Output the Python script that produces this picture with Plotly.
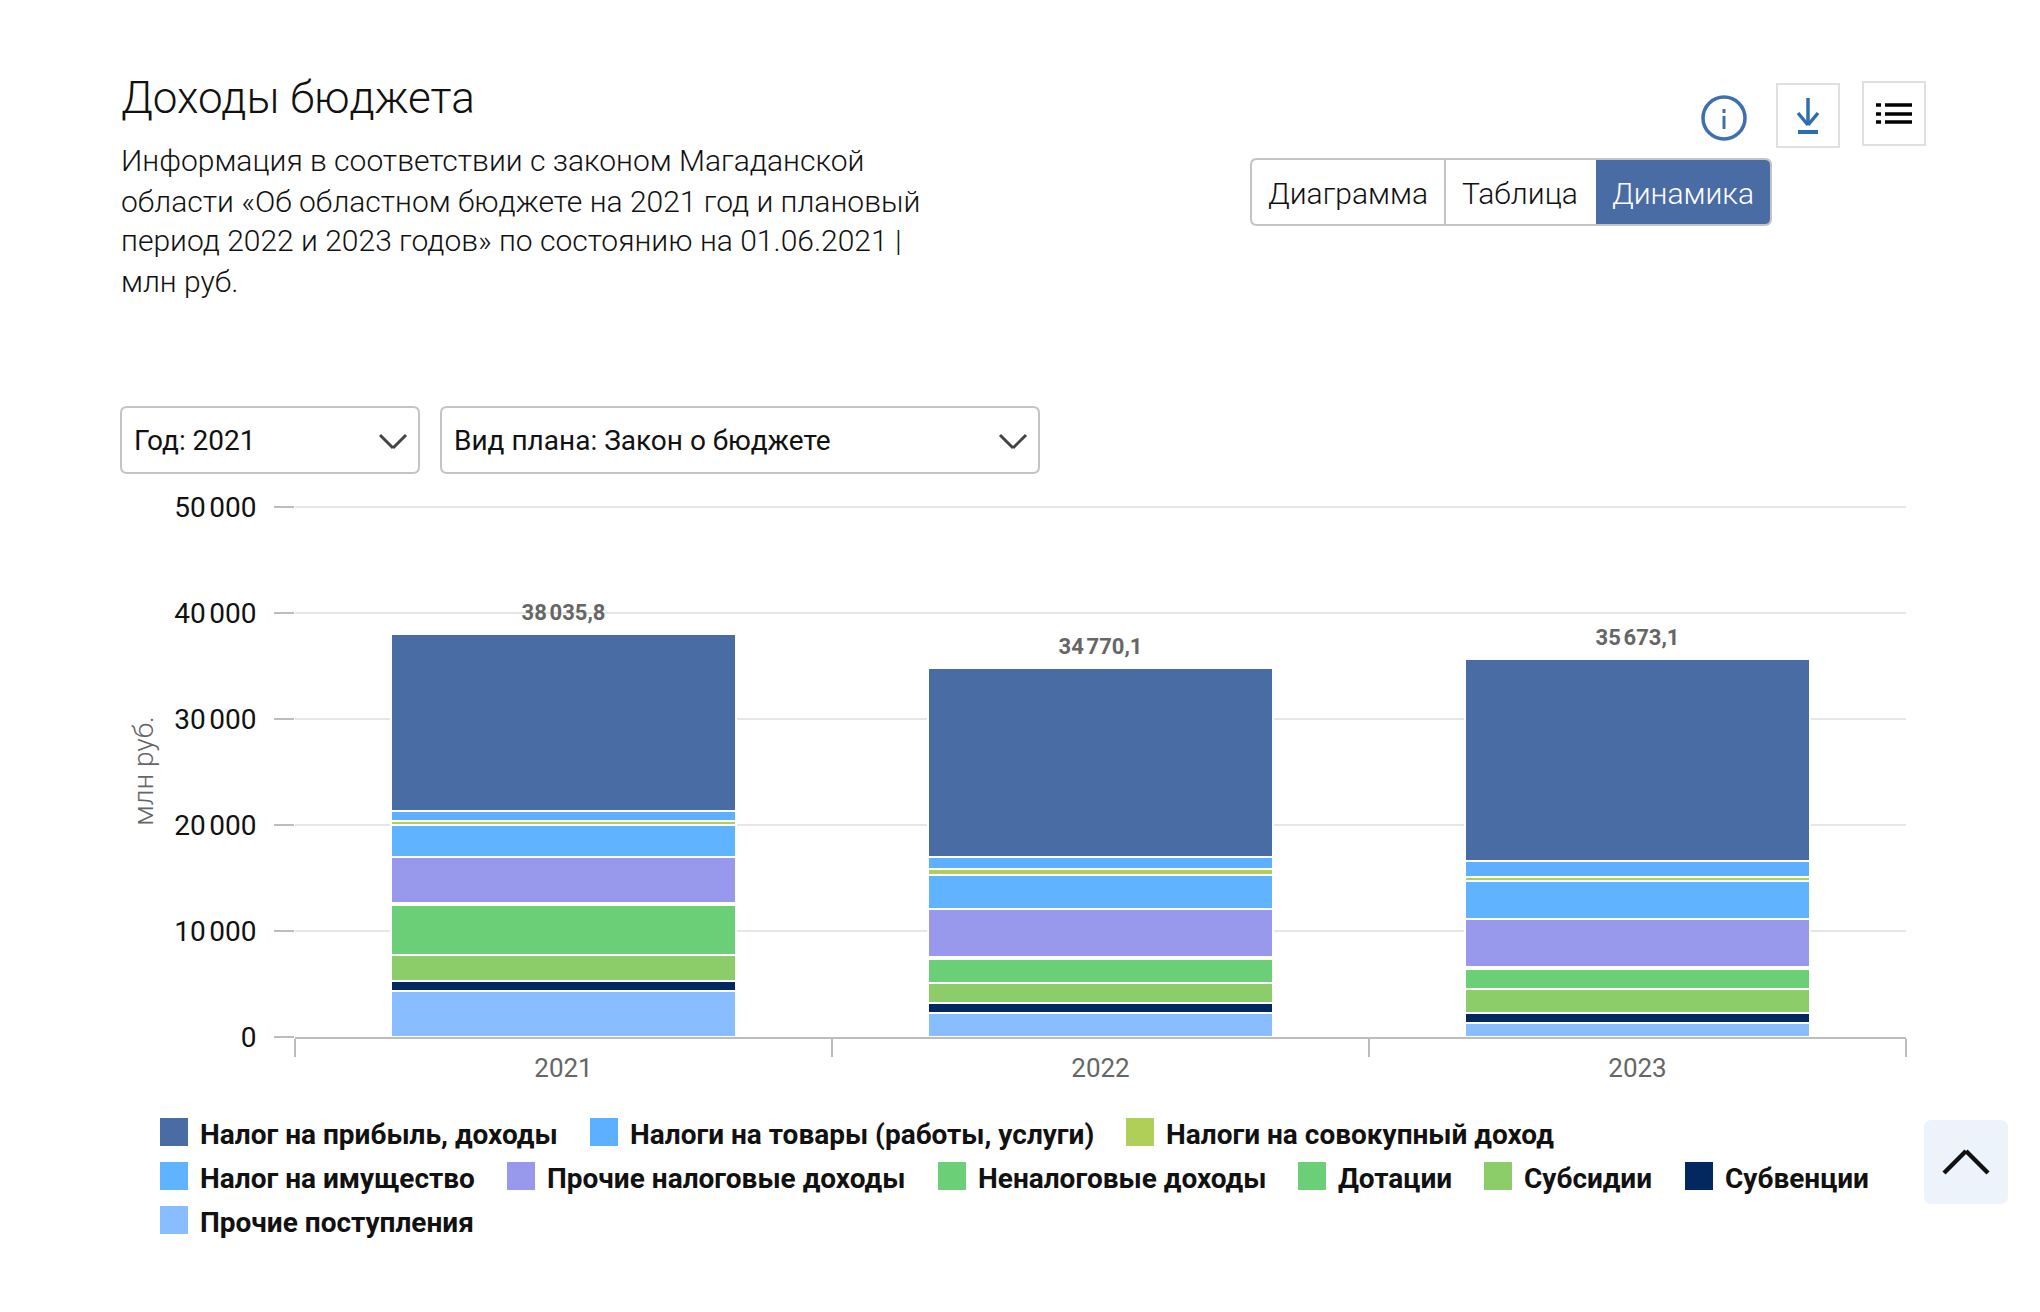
import plotly.graph_objects as go

W = 2040
H = 1312

years = ['2021', '2022', '2023']
totals = [38035.8, 34770.1, 35673.1]
total_labels = ['38\u202f035,8', '34\u202f770,1', '35\u202f673,1']

names = [
    'Налог на прибыль, доходы', 'Налоги на товары (работы, услуги)', 'Налоги на совокупный доход',
    'Налог на имущество', 'Прочие налоговые доходы', 'Неналоговые доходы',
    'Дотации', 'Субсидии', 'Субвенции', 'Прочие поступления',
]
pribyl = [16746.8, 17819.1, 19100.1]
tovary = [943, 1132, 1510]
sovokup = [377, 566, 377]
imushch = [3019, 3208, 3585]
prochie_nal = [4340, 4529, 4529]
nenalog = [189, 189, 189]
dotacii = [4717, 2264, 1887]
subsidii = [2453, 1887, 2264]
subvencii = [943, 943, 943]
prochie_post = [4308, 2233, 1289]
series = [pribyl, tovary, sovokup, imushch, prochie_nal, nenalog, dotacii, subsidii, subvencii, prochie_post]
colors = ['#4A6CA5', '#5CB0FF', '#AFCF58', '#5FB3FF', '#9898EC', '#6BCF77', '#6BCF77', '#8CCD6A', '#02285F', '#88BDFF']

y_ticks = [0, 10000, 20000, 30000, 40000, 50000]
y_labels = ['0', '10\u202f000', '20\u202f000', '30\u202f000', '40\u202f000', '50\u202f000']

FONT = 'Roboto'


# page pixels -> paper coords
# plot area runs 2px above the 50 000 line, plotly drops a gridline sitting on the range end
L, R, T, B = 295, 1906, 505, 1037
Y_MAX = 50190
def px(x):
    return (x - L) / (R - L)
def py(y):
    return (B - y) / (B - T)


fig = go.Figure()

# stacked bottom up, so the last legend entry goes in first
for name, vals, col in reversed(list(zip(names, series, colors))):
    fig.add_trace(go.Bar(x=years, y=vals, name=name, marker=dict(color=col, line=dict(color='white', width=2))))

# invisible markers push the total labels up off the bars
fig.add_trace(go.Scatter(x=years, y=totals, mode='markers+text', text=total_labels, textposition='top center',
                         marker=dict(size=12, opacity=0),
                         textfont=dict(family=FONT, size=22, color='#666666', weight=700)))


def text(s, x, y, size, color='#111111', weight=300, anchor='left'):
    fig.add_annotation(text=s, xref='paper', yref='paper', x=px(x), y=py(y), showarrow=False,
                       xanchor=anchor, yanchor='middle', align='left', borderpad=0, borderwidth=0,
                       font=dict(family=FONT, size=size, color=color, weight=weight))


def rect(x0, y0, x1, y1, fill=None, line=None, width=2):
    fig.add_shape(type='rect', xref='paper', yref='paper', x0=px(x0), x1=px(x1), y0=py(y0), y1=py(y1),
                  fillcolor=fill, line=dict(color=line, width=width if line else 0))


def round_rect(x0, y0, x1, y1, r=6, fill=None, line=None, width=2):
    p = (f'M{px(x0 + r)},{py(y0)} L{px(x1 - r)},{py(y0)} Q{px(x1)},{py(y0)} {px(x1)},{py(y0 + r)} '
         f'L{px(x1)},{py(y1 - r)} Q{px(x1)},{py(y1)} {px(x1 - r)},{py(y1)} '
         f'L{px(x0 + r)},{py(y1)} Q{px(x0)},{py(y1)} {px(x0)},{py(y1 - r)} '
         f'L{px(x0)},{py(y0 + r)} Q{px(x0)},{py(y0)} {px(x0 + r)},{py(y0)} Z')
    fig.add_shape(type='path', xref='paper', yref='paper', path=p, fillcolor=fill,
                  line=dict(color=line, width=width if line else 0))


def seg(x0, y0, x1, y1, color, width=2):
    fig.add_shape(type='line', xref='paper', yref='paper', x0=px(x0), x1=px(x1), y0=py(y0), y1=py(y1),
                  line=dict(color=color, width=width))


# header
text('Доходы бюджета', 121, 98, 44)
desc = ['Информация в соответствии с законом Магаданской',
        'области «Об областном бюджете на 2021 год и плановый',
        'период 2022 и 2023 годов» по состоянию на 01.06.2021 |',
        'млн руб.']
for i, line in enumerate(desc):
    text(line, 121, 161 + 40 * i, 30)

# view switcher
round_rect(1251, 159, 1771, 225, fill='white', line='#c4c4c4')
round_rect(1596, 160, 1770, 224, r=5, fill='#4A6CA5')
rect(1596, 160, 1610, 224, fill='#4A6CA5')
seg(1445, 159, 1445, 225, '#c4c4c4')
text('Диаграмма', 1348, 193.5, 30, anchor='center')
text('Таблица', 1520, 193.5, 30, anchor='center')
text('Динамика', 1683, 193.5, 30, color='white', anchor='center')

# icons
fig.add_shape(type='circle', xref='paper', yref='paper', x0=px(1703), x1=px(1745), y0=py(97), y1=py(139),
              line=dict(color='#3F6FB0', width=3.5))
seg(1724, 116, 1724, 129, '#3F6FB0', 3)
seg(1724, 109, 1724, 113, '#3F6FB0', 3)
rect(1777, 84, 1839, 147, line='#e0e0e0')
seg(1808, 98, 1808, 125, '#2E6DB0', 3.5)
seg(1798, 113, 1808, 125, '#2E6DB0', 3.5)
seg(1818, 113, 1808, 125, '#2E6DB0', 3.5)
seg(1798, 132, 1818, 132, '#2E6DB0', 4)
rect(1863, 82, 1925, 145, line='#e0e0e0')
for y in [105, 114, 122]:
    seg(1876, y, 1881, y, 'black', 3.5)
    seg(1885, y, 1912, y, 'black', 3.5)

# dropdowns
round_rect(121, 407, 419, 473, fill='white', line='#c4c4c4')
round_rect(441, 407, 1039, 473, fill='white', line='#c4c4c4')
text('Год: 2021', 134, 440, 28, weight=400)
text('Вид плана: Закон о бюджете', 454, 440, 28, weight=400)
for x in [380, 1000]:
    seg(x, 435, x + 13, 448, '#444444', 3)
    seg(x + 13, 448, x + 26, 435, '#444444', 3)

# legend, drawn by hand because the swatches are 28px squares
leg_x = [160, 590, 1126, 160, 507, 938, 1298, 1484, 1685, 160]
leg_y = [1118, 1118, 1118, 1162, 1162, 1162, 1162, 1162, 1162, 1206]
for name, col, x, y in zip(names, colors, leg_x, leg_y):
    rect(x, y, x + 28, y + 28, fill=col)
    text(name, x + 40, y + 16, 28, color='#111111', weight=700)

# scroll up button
round_rect(1924, 1120, 2008, 1204, r=8, fill='#EDF3FA')
seg(1944, 1173, 1966, 1151, '#111111', 4.5)
seg(1966, 1151, 1988, 1173, '#111111', 4.5)

fig.update_layout(
    width=W, height=H,
    margin=dict(l=L, r=W - R, t=T, b=H - B),
    barmode='stack', bargap=0.357,
    showlegend=False,
    paper_bgcolor='white', plot_bgcolor='white',
    font=dict(family=FONT),
    xaxis=dict(type='category', tickson='boundaries', ticks='outside', ticklen=18, tickwidth=2,
               tickcolor='#bdbdbd', showline=True, linecolor='#bdbdbd', linewidth=2, showgrid=False,
               ticklabelstandoff=7, tickfont=dict(size=26, color='#666666')),
    yaxis=dict(range=[0, Y_MAX], tickvals=y_ticks, ticktext=y_labels, ticks='outside', ticklen=20, tickwidth=2,
               tickcolor='#bdbdbd', gridcolor='#e6e6e6', gridwidth=2, zeroline=False,
               ticklabelstandoff=12, tickfont=dict(size=28, color='#111111'),
               title=dict(text='млн руб.', font=dict(size=28, color='#666666', weight=300), standoff=12)),
)

fig.write_html("out.html", config=dict(displayModeBar=False), post_script="document.body.style.margin='0';")
